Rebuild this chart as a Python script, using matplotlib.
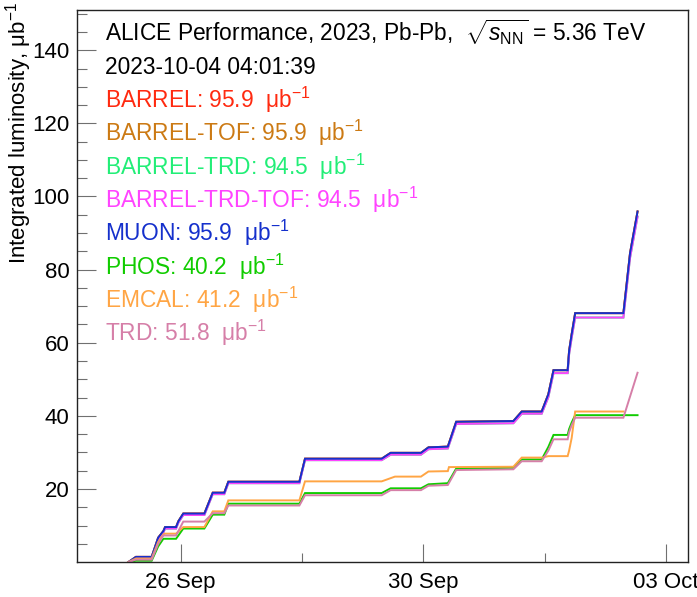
import datetime as dt

import matplotlib
matplotlib.use("Agg")
import matplotlib.pyplot as plt
import matplotlib.dates as mdates
import matplotlib.ticker as mticker

plt.rcParams['font.family'] = ['Liberation Sans', 'DejaVu Sans']
plt.rcParams['mathtext.fontset'] = 'custom'
plt.rcParams['mathtext.rm'] = 'Liberation Sans'
plt.rcParams['mathtext.it'] = 'Liberation Sans:italic'
plt.rcParams['mathtext.bf'] = 'Liberation Sans:bold'

# hours since 2023-09-25 00:00 and integrated luminosity (ub^-1)
barrel_hours = [17.85, 20.5, 25.95, 28.2, 30.0, 30.6, 34.4, 35.2, 36.9, 44.2, 47.1,
                51.1, 52.5, 77.1, 79.05, 105.6, 108.7, 119.2, 121.8, 128.5, 131.4,
                151.2, 154.1, 161.0, 163.3, 165.1, 170.0, 170.5, 171.4, 172.6,
                189.3, 191.6, 194.2]
barrel_lumi = [0, 1.45, 1.45, 6.7, 8.5, 9.6, 9.6, 11.2, 13.3, 13.3, 19.0, 19.0, 22.0,
               22.0, 28.3, 28.3, 29.9, 29.9, 31.4, 31.6, 38.4, 38.6, 41.2, 41.2, 45.9,
               52.5, 52.5, 57.8, 62.4, 68.1, 68.1, 84.5, 95.9]
trd_tof_lumi = [0, 1.2, 1.2, 6.3, 8.1, 9.2, 9.2, 10.8, 12.9, 12.9, 18.6, 18.6, 21.6,
                21.6, 27.9, 27.9, 29.4, 29.4, 30.9, 31.1, 37.8, 38.0, 40.6, 40.6, 45.1,
                51.7, 51.7, 56.8, 61.4, 66.9, 66.9, 83.2, 94.5]

phos_hours = [17.85, 20.5, 25.95, 28.2, 30.0, 30.6, 34.4, 36.9, 44.2, 47.1, 51.1, 52.5,
              77.1, 79.05, 105.6, 108.7, 119.2, 121.8, 128.5, 131.4, 151.2, 154.1,
              161.0, 163.3, 165.1, 170.0, 170.5, 171.4, 172.6, 194.2]
phos_lumi = [0, 0.4, 0.4, 4.3, 6.4, 6.4, 6.4, 9.2, 9.2, 13.0, 13.0, 16.0, 16.0, 18.9,
             18.9, 20.2, 20.2, 21.3, 21.6, 25.6, 25.8, 28.1, 28.1, 31.5, 34.8, 34.8,
             36.4, 38.2, 40.2, 40.2]

emcal_hours = [17.85, 20.5, 25.95, 28.2, 30.0, 30.6, 34.4, 36.9, 44.2, 47.1, 51.1, 52.5,
               77.1, 79.05, 105.6, 110.2, 119.2, 121.8, 128.5, 128.9, 151.2, 154.1,
               161.0, 163.3, 170.0, 170.5, 171.4, 172.6, 189.3]
emcal_lumi = [0, 1.0, 1.0, 5.5, 7.6, 7.8, 7.8, 9.6, 9.6, 13.9, 13.9, 16.9, 16.9, 22.1,
              22.1, 23.4, 23.4, 24.8, 24.9, 26.0, 26.1, 28.6, 28.6, 29.0, 29.0, 30.5,
              34.0, 41.2, 41.2]

trd_hours = [17.85, 20.5, 25.95, 28.2, 30.0, 30.6, 34.4, 36.9, 44.2, 47.1, 51.1, 52.5,
             77.1, 79.05, 105.6, 108.7, 119.2, 121.8, 128.5, 131.4, 151.2, 154.1,
             161.0, 163.3, 165.1, 170.0, 170.5, 171.4, 172.6, 189.3, 194.2]
trd_lumi = [0, 0.7, 0.7, 5.0, 7.3, 7.3, 7.3, 11.1, 11.1, 13.4, 13.4, 15.5, 15.5, 18.3,
            18.3, 19.7, 19.7, 20.9, 21.1, 25.2, 25.4, 27.6, 27.6, 30.5, 33.6, 33.6,
            35.5, 37.5, 39.5, 39.5, 51.8]

# name, colour, (hours, lumi), total shown in the legend
triggers = [
    ("BARREL", "#ff2a10", barrel_hours, barrel_lumi, 95.9),
    ("BARREL-TOF", "#cc7a14", barrel_hours, barrel_lumi, 95.9),
    ("BARREL-TRD", "#22ee77", barrel_hours, trd_tof_lumi, 94.5),
    ("BARREL-TRD-TOF", "#ff44ff", barrel_hours, trd_tof_lumi, 94.5),
    ("MUON", "#1530cc", barrel_hours, barrel_lumi, 95.9),
    ("PHOS", "#11cc00", phos_hours, phos_lumi, 40.2),
    ("EMCAL", "#ffa544", emcal_hours, emcal_lumi, 41.2),
    ("TRD", "#d67fa8", trd_hours, trd_lumi, 51.8),
]

t0 = dt.datetime(2023, 9, 25)


def to_time(hours):
    return [t0 + dt.timedelta(hours=h) for h in hours]


W, H = 697, 597
fig = plt.figure(figsize=(W / 100, H / 100), dpi=100)
ax = fig.add_axes([77.3 / W, 1 - 562 / H, (687.5 - 77.3) / W, (562 - 10) / H])

for name, col, hrs, lumi, tot in triggers:
    ax.plot(to_time(hrs), lumi, color=col, lw=1.4, solid_joinstyle='miter')

ax.set_xlim(t0 + dt.timedelta(hours=0.2), t0 + dt.timedelta(hours=211.5))
ax.set_ylim(0.05, 151)

major_days = [dt.datetime(2023, 9, 26, 12), dt.datetime(2023, 9, 30), dt.datetime(2023, 10, 3, 12)]
minor_days = [dt.datetime(2023, 9, 28, 6), dt.datetime(2023, 10, 1, 18)]
ax.xaxis.set_major_locator(mticker.FixedLocator(mdates.date2num(major_days)))
ax.xaxis.set_minor_locator(mticker.FixedLocator(mdates.date2num(minor_days)))
ax.xaxis.set_major_formatter(mdates.DateFormatter('%d %b'))

ax.yaxis.set_major_locator(mticker.FixedLocator(range(20, 141, 20)))
ax.yaxis.set_minor_locator(mticker.MultipleLocator(5))

ax.tick_params(which='both', direction='in', color='#707070', width=0.8,
               labelsize=16, top=False, right=False)
ax.tick_params(axis='y', which='major', length=13.5, pad=5.5)
ax.tick_params(axis='y', which='minor', length=7)
ax.tick_params(axis='x', which='major', length=13, pad=7.5)
ax.tick_params(axis='x', which='minor', length=6.5)
for s in ax.spines.values():
    s.set_linewidth(1.0)
    s.set_color('#222222')

fig.text(19 / W, 1 - 2 / H, r"Integrated luminosity, μb$^{-1}$", rotation=90,
         ha='center', va='top', fontsize=16)

x_txt = 105 / W
fs = 16.4
fig.text(x_txt, 1 - 41.5 / H,
         r"ALICE Performance, 2023, Pb-Pb,  $\sqrt{s_{\mathrm{NN}}}$ = 5.36 TeV",
         fontsize=fs, va='baseline')
fig.text(x_txt, 1 - 74.5 / H, "2023-10-04 04:01:39", fontsize=fs, va='baseline')
for i, (name, col, hrs, lumi, tot) in enumerate(triggers):
    y = 108 + 33.3 * i
    fig.text(x_txt, 1 - y / H, f"{name}: {tot:.1f}  μb$^{{-1}}$", color=col,
             fontsize=fs, va='baseline')

fig.savefig("out.png", dpi=100)
